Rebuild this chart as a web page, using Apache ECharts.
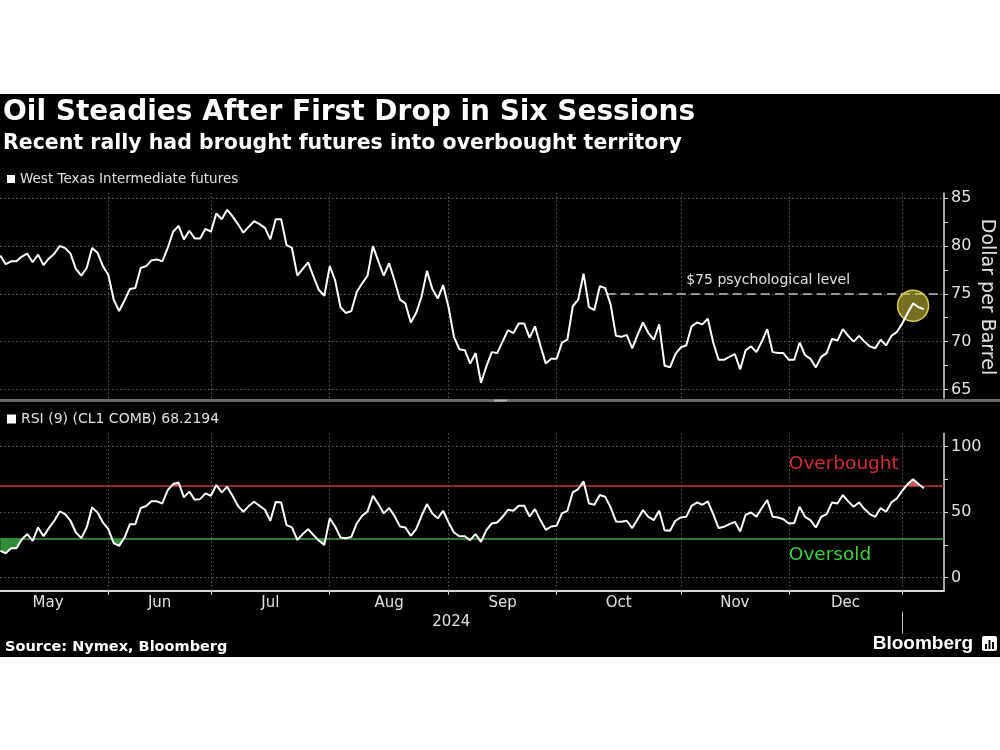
<!DOCTYPE html>
<html>
<head>
<meta charset="utf-8">
<script src="https://cdn.jsdelivr.net/npm/echarts@6/dist/echarts.min.js"></script>
<style>
html,body{margin:0;padding:0;background:#fff;}
#c{width:1000px;height:750px;}
</style>
</head>
<body>
<div id="c"></div>
<script>
// ---- DATA (one value per trading day, 2 May 2024 .. 7 Jan 2025) ----
const price = [
  79.0, 78.1, 78.4, 78.4, 78.9, 79.2, 78.3, 79.1, 78.0, 78.7, 79.2, 80.0, 79.8, 79.2, 77.6, 76.9, 77.7, 79.8, 79.3, 77.9, 77.0,
  74.4, 73.2, 74.3, 75.5, 75.6, 77.7, 77.9, 78.5, 78.6, 78.4, 79.8, 81.5, 82.1, 80.7, 81.6, 80.8, 80.8, 81.8, 81.5,
  83.4, 82.8, 83.8, 83.1, 82.3, 81.4, 82.0, 82.6, 82.3, 81.9, 80.7, 82.8, 82.8, 80.1, 79.8, 76.9, 77.6, 78.3, 76.8, 75.4, 74.8, 77.9,
  76.4, 73.6, 73.0, 73.2, 75.2, 76.1, 76.9, 80.0, 78.4, 76.9, 78.2, 76.4, 74.4, 74.0, 72.0, 73.0, 74.7, 77.4, 75.5, 74.5, 75.9, 73.6,
  70.5, 69.2, 69.1, 67.7, 68.8, 65.7, 67.4, 68.9, 68.8, 70.0, 71.2, 70.9, 71.9, 71.9, 70.4, 71.6, 69.6, 67.7, 68.2, 68.2,
  69.9, 70.2, 73.7, 74.4, 77.1, 73.6, 73.3, 75.8, 75.6, 73.9, 70.6, 70.5, 70.7, 69.3, 70.7, 72.0, 70.9, 70.2, 71.8, 67.5, 67.3, 68.7, 69.4,
  69.6, 71.6, 72.0, 71.8, 72.4, 69.9, 68.1, 68.1, 68.4, 68.7, 67.1, 69.1, 69.5, 68.9, 70.0, 71.3, 68.9, 68.8, 68.8, 68.1,
  68.1, 69.9, 68.6, 68.2, 67.3, 68.4, 68.8, 70.3, 70.1, 71.3, 70.6, 70.0, 70.6, 70.0, 69.5, 69.3, 70.2, 69.6, 70.6, 71.0, 71.9,
  73.0, 74.0, 73.6, 73.4
];
const rsi = [
  20.4, 18.6, 22.4, 22.4, 29.3, 33.2, 28.1, 38.3, 31.6, 37.8, 43.4, 50.5, 48.5, 43.4, 34.4, 30.1, 38.3, 53.6, 49.7, 42.1, 37.0,
  26.3, 24.2, 30.6, 40.8, 40.8, 53.1, 54.6, 58.2, 58.2, 56.6, 66.8, 71.4, 72.7, 61.2, 65.6, 59.4, 59.9, 64.3, 62.5,
  70.7, 65.1, 69.4, 62.5, 54.8, 50.3, 54.6, 57.9, 54.8, 51.8, 43.4, 57.7, 57.4, 40.1, 38.3, 28.8, 33.2, 37.0, 32.4, 28.1, 25.0, 45.2,
  39.0, 30.6, 30.1, 31.1, 41.3, 47.2, 50.5, 62.5, 56.1, 49.0, 53.1, 46.9, 39.0, 38.3, 31.9, 37.0, 47.2, 56.1, 49.0, 45.2, 51.0, 42.1,
  34.4, 31.6, 31.6, 28.6, 33.2, 27.3, 36.2, 41.3, 42.1, 46.4, 51.8, 51.0, 54.8, 54.8, 46.7, 52.3, 43.9, 36.5, 39.0, 39.5,
  49.0, 51.0, 65.1, 67.6, 73.5, 56.6, 55.6, 63.0, 61.7, 53.6, 42.9, 42.6, 43.4, 37.8, 44.6, 51.5, 46.4, 43.9, 51.0, 36.2, 35.7, 43.4, 45.9,
  46.4, 54.8, 57.4, 55.6, 58.2, 48.5, 37.8, 38.8, 40.8, 42.6, 35.2, 48.0, 49.7, 46.4, 53.1, 59.2, 46.4, 45.9, 44.6, 41.3,
  41.6, 54.1, 46.4, 43.9, 38.3, 46.4, 48.5, 57.4, 56.6, 63.0, 58.2, 54.1, 57.4, 52.3, 48.5, 46.4, 53.1, 50.3, 57.4, 60.5, 66.3,
  71.4, 75.0, 71.4, 68.2
];
const monthNames = ['May', 'Jun', 'Jul', 'Aug', 'Sep', 'Oct', 'Nov', 'Dec'];
const monthEndIdx = [20, 39, 61, 83, 103, 126, 146, 167];       // last trading day of each month
const monthLabelIdx = [8.85, 29.5, 50, 72, 93, 114.5, 136, 156.5];
const yearLabel = '2024';
const yearLabelIdx = 83.5;
const yearEndIdx = 167;
const priceTicks = [65, 70, 75, 80, 85];
const priceTickMarks = [65, 67.5, 70, 72.5, 75, 77.5, 80, 82.5, 85];
const rsiTicks = [0, 50, 100];
const rsiTickMarks = [0, 25, 50, 75, 100];
const overbought = 70;
const oversold = 30;
const psychLevel = 75;
const psychStartIdx = 112.3;
const psychLabelIdx = 127;
const psychLabel = '$75 psychological level';
const highlightIdx = 169;
const highlightVal = 73.75;
const zoneLabelIdx = 146;
const priceName = 'West Texas Intermediate futures';
const rsiName = 'RSI (9) (CL1 COMB) 68.2194';

// ---- CHART ----
const X_MIN = -0.052, X_MAX = 174.73;
const FONT = 'DejaVu Sans';
const gridLine = {color: '#5e5e5e', type: [1.5, 2.5], width: 1};
const pricePts = price.map((v, i) => [i, v]);
const rsiPts = rsi.map((v, i) => [i, v]);

const chart = echarts.init(document.getElementById('c'), null, {renderer: 'canvas'});
const option = {
  backgroundColor: '#ffffff',
  animation: false,
  textStyle: {fontFamily: FONT},
  title: [
    {text: 'Oil Steadies After First Drop in Six Sessions', left: 3, top: 99, padding: 0,
     textStyle: {color: '#fff', fontSize: 28, fontWeight: 'bold', fontFamily: FONT}},
    {text: 'Recent rally had brought futures into overbought territory', left: 3, top: 133.5, padding: 0,
     textStyle: {color: '#fff', fontSize: 20.5, fontWeight: 'bold', fontFamily: FONT}},
    {text: 'Source: Nymex, Bloomberg', left: 5, top: 640, padding: 0,
     textStyle: {color: '#fff', fontSize: 14.5, fontWeight: 'bold', fontFamily: FONT}}
  ],
  legend: [
    {data: [priceName], left: 7, top: 172, padding: 0, icon: 'rect', itemWidth: 8, itemHeight: 8,
     selectedMode: false, textStyle: {color: '#e0e0e0', fontSize: 13.5}},
    {data: [rsiName], left: 7, top: 412, padding: 0, icon: 'rect', itemWidth: 9, itemHeight: 9,
     selectedMode: false, textStyle: {color: '#e0e0e0', fontSize: 14}}
  ],
  graphic: [
    {type: 'rect', z: -10, silent: true, shape: {x: 0, y: 94, width: 1000, height: 563}, style: {fill: '#000'}},
    {type: 'rect', silent: true, shape: {x: 0, y: 399, width: 1000, height: 3}, style: {fill: '#6a6a6a'}},
    {type: 'rect', silent: true, shape: {x: 494, y: 399.5, width: 13, height: 2}, style: {fill: '#b0b0b0'}},
    {type: 'text', silent: true, x: 987, y: 297, rotation: -Math.PI / 2,
     style: {text: 'Dollar per Barrel', fill: '#e0e0e0', font: '19px "DejaVu Sans"', textAlign: 'center', textVerticalAlign: 'middle'}},
    {type: 'text', silent: true, x: 973, y: 644,
     style: {text: 'Bloomberg', fill: '#fff', font: 'bold 19px "Liberation Sans"', textAlign: 'right', textVerticalAlign: 'middle'}},
    {type: 'rect', silent: true, shape: {x: 982, y: 636, width: 15, height: 15, r: 2}, style: {fill: '#fff'}},
    {type: 'rect', silent: true, shape: {x: 985, y: 644, width: 2, height: 5}, style: {fill: '#000'}},
    {type: 'rect', silent: true, shape: {x: 988.5, y: 640, width: 2, height: 9}, style: {fill: '#000'}},
    {type: 'rect', silent: true, shape: {x: 992, y: 642, width: 2, height: 7}, style: {fill: '#000'}}
  ],
  grid: [
    {left: 0, right: 56, top: 193, height: 205, containLabel: false},
    {left: 0, right: 56, top: 433.5, height: 157.2, containLabel: false}
  ],
  xAxis: [
    {gridIndex: 0, type: 'value', min: X_MIN, max: X_MAX, show: false},
    {gridIndex: 1, type: 'value', min: X_MIN, max: X_MAX, position: 'bottom',
     axisLine: {show: true, onZero: false, lineStyle: {color: '#d8d8d8', width: 2}},
     axisTick: {show: true, customValues: monthEndIdx, length: 4, lineStyle: {color: '#d8d8d8', width: 1}},
     axisLabel: {show: true, customValues: monthLabelIdx, color: '#e0e0e0', fontSize: 15, margin: 5,
       formatter: v => monthNames[monthLabelIdx.indexOf(v)] || ''},
     splitLine: {show: false}},
    {gridIndex: 1, type: 'value', min: X_MIN, max: X_MAX, position: 'bottom', offset: 21,
     axisLine: {show: false, onZero: false},
     axisTick: {show: true, customValues: [yearEndIdx], length: 22, lineStyle: {color: '#bdbdbd', width: 1}},
     axisLabel: {show: true, customValues: [yearLabelIdx], color: '#e0e0e0', fontSize: 15, margin: 3,
       formatter: () => yearLabel},
     splitLine: {show: false}}
  ],
  yAxis: [
    {gridIndex: 0, type: 'value', position: 'right', min: 64.1, max: 85.55,
     axisLine: {show: true, onZero: false, lineStyle: {color: '#d8d8d8', width: 1.5}},
     axisTick: {show: true, customValues: priceTickMarks, length: 4, lineStyle: {color: '#d8d8d8'}},
     axisLabel: {show: true, customValues: priceTicks, color: '#e0e0e0', fontSize: 16, margin: 7},
     splitLine: {show: false}},
    {gridIndex: 1, type: 'value', position: 'right', min: -10, max: 110,
     axisLine: {show: true, onZero: false, lineStyle: {color: '#d8d8d8', width: 1.5}},
     axisTick: {show: true, customValues: rsiTickMarks, length: 4, lineStyle: {color: '#d8d8d8'}},
     axisLabel: {show: true, customValues: rsiTicks, color: '#e0e0e0', fontSize: 16, margin: 7},
     splitLine: {show: false}}
  ],
  visualMap: {
    show: false, type: 'piecewise', seriesIndex: 3, dimension: 1,
    pieces: [
      {lt: oversold, color: '#2f8c37'},
      {gte: oversold, lte: overbought, color: 'rgba(0,0,0,0)'},
      {gt: overbought, color: '#c65a5a'}
    ]
  },
  series: [
    {name: 'priceGrid', type: 'line', xAxisIndex: 0, yAxisIndex: 0, data: [], silent: true, z: 1,
     markLine: {silent: true, symbol: 'none', z: 1, label: {show: false}, lineStyle: gridLine,
       data: priceTicks.map(v => ({yAxis: v})).concat(monthEndIdx.map(v => ({xAxis: v})))}},
    {name: priceName, type: 'line', xAxisIndex: 0, yAxisIndex: 0, data: pricePts,
     symbol: 'none', showSymbol: false, color: '#fff', lineStyle: {color: '#fff', width: 2}, z: 10,
     markLine: {silent: true, symbol: 'none', label: {show: false},
       lineStyle: {color: '#bdbdbd', type: [9, 5], width: 1.5},
       data: [[{coord: [psychStartIdx, psychLevel]}, {coord: [X_MAX, psychLevel]}]]},
     markPoint: {silent: true, data: [
       {coord: [psychLabelIdx, psychLevel], symbol: 'circle', symbolSize: 0,
        label: {show: true, position: 'right', distance: 0, offset: [0, -13], formatter: psychLabel,
                color: '#e0e0e0', fontSize: 14, fontFamily: FONT}},
       {coord: [highlightIdx, highlightVal], symbol: 'circle', symbolSize: 31,
        itemStyle: {color: 'rgba(214,204,60,0.55)', borderColor: '#d8cc52', borderWidth: 1.5},
        label: {show: false}}
     ]}},
    {name: 'rsiGrid', type: 'line', xAxisIndex: 1, yAxisIndex: 1, data: [], silent: true, z: 1,
     markLine: {silent: true, symbol: 'none', z: 1, label: {show: false}, lineStyle: gridLine,
       data: rsiTicks.map(v => ({yAxis: v})).concat(monthEndIdx.map(v => ({xAxis: v}))).concat([
         {yAxis: overbought, lineStyle: {color: '#c0393b', width: 1.5, type: 'solid'}},
         {yAxis: oversold, lineStyle: {color: '#4c9a4c', width: 1.5, type: 'solid'}}
       ])}},
    {name: 'rsiZones', type: 'line', xAxisIndex: 1, yAxisIndex: 1, data: rsiPts, silent: true,
     symbol: 'none', showSymbol: false, lineStyle: {width: 0, opacity: 0},
     areaStyle: {origin: oversold, opacity: 1}, z: 3},
    {name: rsiName, type: 'line', xAxisIndex: 1, yAxisIndex: 1, data: rsiPts,
     symbol: 'none', showSymbol: false, color: '#fff', lineStyle: {color: '#fff', width: 2}, z: 10,
     markPoint: {silent: true, data: [
       {coord: [zoneLabelIdx, overbought], symbol: 'circle', symbolSize: 0,
        label: {show: true, position: 'right', distance: 0, offset: [0, -22], formatter: 'Overbought',
                color: '#d02c3a', fontSize: 18.5, fontFamily: FONT}},
       {coord: [zoneLabelIdx, oversold], symbol: 'circle', symbolSize: 0,
        label: {show: true, position: 'right', distance: 0, offset: [0, 17], formatter: 'Oversold',
                color: '#3fcf45', fontSize: 18.5, fontFamily: FONT}}
     ]}}
  ]
};
chart.setOption(option);
</script>
</body>
</html>
